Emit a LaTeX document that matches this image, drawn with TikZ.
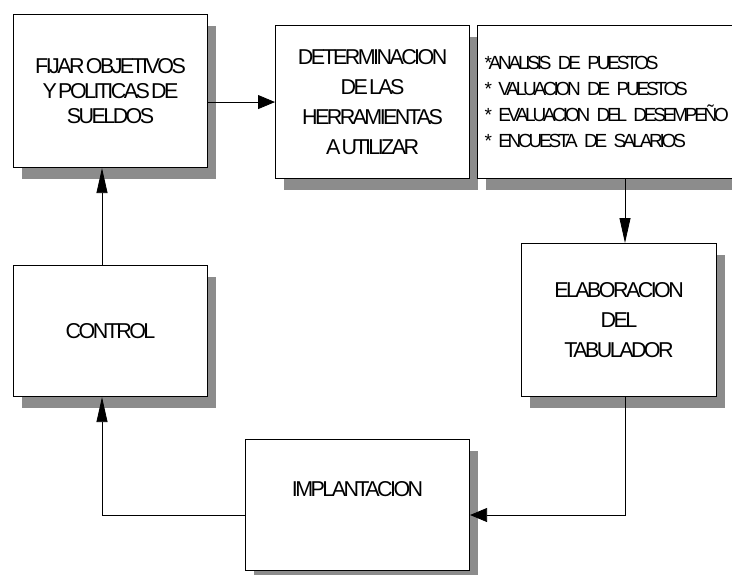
\documentclass[tikz,border=0pt]{standalone}
\usepackage{fontspec}
\setmainfont{Liberation Sans}[LetterSpace=-12, WordSpace=0.35]
\newfontfamily\listfont{Liberation Sans}[LetterSpace=-17, WordSpace=0.35]
\usetikzlibrary{shadows,arrows.meta}
\tikzset{
  stepbox/.style={draw, line width=1.1pt, fill=white, inner sep=0pt, anchor=north west,
    align=center, font=\fontsize{21.5}{25}\selectfont,
    drop shadow={shadow xshift=8pt, shadow yshift=-11pt, fill=black!45, opacity=1}},
  flow/.style={line width=0.8pt, -{Triangle[length=17pt,width=14pt]}},
  flowv/.style={line width=0.8pt, -{Triangle[length=25pt,width=11pt]}},
}
\begin{document}
\begin{tikzpicture}[x=1pt, y=1pt]
    \useasboundingbox (0,0) rectangle (732,-574);
    \clip (0,0) rectangle (732,-574);
    % Top row: objectives, tools, list of tools
    \node[stepbox, minimum width=194pt, minimum height=153pt] (fijar) at (13,-14)
        {FIJAR OBJETIVOS\\Y POLITICAS DE\\SUELDOS};
    \node[stepbox, minimum width=194pt, minimum height=153pt,
          font=\fontsize{21.5}{30}\selectfont] (herram) at (275,-25)
        {DETERMINACION\\DE LAS\\HERRAMIENTAS\\A UTILIZAR};
    \node[stepbox, minimum width=320pt, minimum height=153pt, inner xsep=7pt,
          text width=306pt, align=left, font=\listfont\fontsize{19}{26}\selectfont] (lista) at (477,-25)
        {*ANALISIS DE PUESTOS\\{}* VALUACION DE PUESTOS\\{}* EVALUACION DEL DESEMPEÑO\\{}* ENCUESTA DE SALARIOS};
    % Right side and bottom
    \node[stepbox, minimum width=195pt, minimum height=153pt,
          font=\fontsize{21.5}{30}\selectfont] (tabul) at (521,-243)
        {ELABORACION\\DEL\\TABULADOR};
    \node[stepbox, minimum width=224pt, minimum height=131pt, text depth=32pt] (implant) at (245,-439)
        {IMPLANTACION};
    \node[stepbox, minimum width=194pt, minimum height=131pt] (control) at (13,-265)
        {CONTROL};
    % Bends of the loop
    \coordinate (turn) at (625,-515);
    \coordinate (back) at (102,-515);
    % Connectors
    \draw[flow] (fijar.east |- herram.west) -- (herram.west);
    \draw[flowv] (lista.south -| turn) -- (tabul.north -| turn);
    \draw[flow] (tabul.south -| turn) |- (implant.east |- turn);
    \draw[flowv] (implant.west |- back) -| (control.south -| back);
    \draw[flowv] (control.north -| back) -- (fijar.south -| back);
\end{tikzpicture}
\end{document}
